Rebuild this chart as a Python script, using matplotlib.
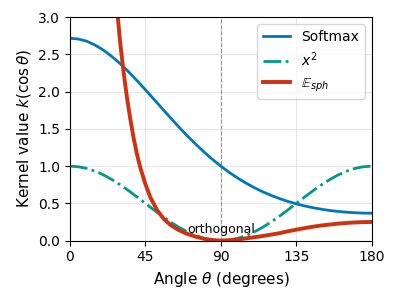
# -*- coding: utf-8 -*-
"""
Kernel value versus angle: softmax, squared cosine and spherical energy.
"""

import matplotlib
matplotlib.use('Agg')
import matplotlib.pyplot as plt


# angles (degrees) for softmax and x^2 curves
ANG = [0, 5, 10, 15, 20, 25, 30, 35, 40, 45, 50, 55, 60, 65, 70, 75, 80, 85,
       90, 95, 100, 105, 110, 115, 120, 125, 130, 135, 140, 145, 150, 155,
       160, 165, 170, 175, 180]

SOFTMAX = [2.718, 2.708, 2.679, 2.627, 2.559, 2.474, 2.377, 2.268, 2.150,
           2.028, 1.901, 1.775, 1.649, 1.526, 1.407, 1.296, 1.190, 1.091,
           1.000, 0.916, 0.840, 0.772, 0.710, 0.655, 0.607, 0.564, 0.526,
           0.493, 0.465, 0.441, 0.421, 0.404, 0.391, 0.381, 0.374, 0.369,
           0.368]

XSQ = [1.000, 0.992, 0.970, 0.933, 0.883, 0.821, 0.750, 0.671, 0.587, 0.500,
       0.413, 0.329, 0.250, 0.179, 0.117, 0.067, 0.030, 0.008, 0.000, 0.008,
       0.030, 0.067, 0.117, 0.179, 0.250, 0.329, 0.413, 0.500, 0.587, 0.671,
       0.750, 0.821, 0.883, 0.933, 0.970, 0.992, 1.000]

# spherical energy curve, its own angle samples
ANG_SPH = [28, 30, 32, 34, 36, 38, 40, 42, 45, 48, 52, 56, 60, 65, 70, 75,
           80, 85, 90, 95, 100, 105, 110, 115, 120, 125, 130, 135, 140, 145,
           150, 155, 160, 165, 170, 175, 180]

ESPH = [3.15, 2.66, 2.27, 1.93, 1.64, 1.38, 1.16, 0.98, 0.76, 0.58, 0.41,
        0.29, 0.21, 0.14, 0.09, 0.052, 0.024, 0.007, 0.000, 0.005, 0.015,
        0.030, 0.045, 0.062, 0.080, 0.100, 0.125, 0.147, 0.168, 0.187, 0.203,
        0.216, 0.228, 0.237, 0.244, 0.248, 0.250]

XTICKS = [0, 45, 90, 135, 180]


# set figure
fig = plt.figure(figsize=(3.99, 3.03), dpi=100)
ax = fig.add_axes([0.175, 0.206, 0.757, 0.737])

# grid and orthogonal marker
ax.grid(True, color='#e6e6e6', linewidth=0.8)
ax.set_axisbelow(True)
ax.axvline(90, color='gray', linestyle='--', linewidth=0.8, alpha=0.8)

# curves
ax.plot(ANG, SOFTMAX, color='#0077BB', linewidth=2, label='Softmax')
ax.plot(ANG, XSQ, color='#009988', linewidth=2, linestyle='-.',
        label=r'$x^2$')
ax.plot(ANG_SPH, ESPH, color='#CC3311', linewidth=2.8,
        label=r'$\mathbb{E}_{sph}$')

ax.text(90, 0.15, 'orthogonal', ha='center', va='center', fontsize=9)

# axes
ax.set_xlim(0, 180)
ax.set_ylim(0, 3)
ax.set_xticks(XTICKS)
ax.tick_params(labelsize=10)
ax.set_xlabel(r'Angle $\theta$ (degrees)', fontsize=11)
ax.set_ylabel(r'Kernel value $k(\cos\theta)$', fontsize=11)

ax.legend(loc='upper right', fontsize=10)

fig.savefig('out.png', dpi=100)
